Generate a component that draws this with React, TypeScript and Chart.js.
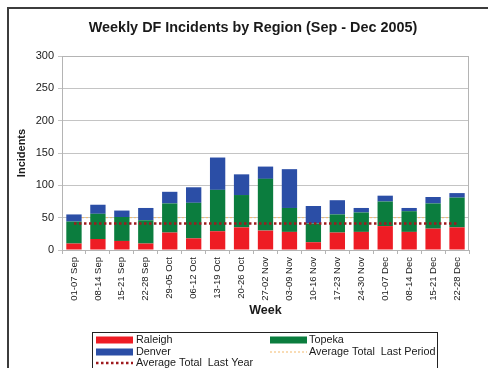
import React, { useEffect, useRef } from "react";
import { Chart, registerables } from "chart.js";

Chart.register(...registerables);

const FONT = "'Liberation Sans', Arial, Helvetica, sans-serif";

const weeks = [
  "01-07 Sep", "08-14 Sep", "15-21 Sep", "22-28 Sep", "29-05 Oct", "06-12 Oct",
  "13-19 Oct", "20-26 Oct", "27-02 Nov", "03-09 Nov", "10-16 Nov", "17-23 Nov",
  "24-30 Nov", "01-07 Dec", "08-14 Dec", "15-21 Dec", "22-28 Dec",
];
const raleigh = [10, 17, 14, 10, 27, 18, 29, 35, 30, 28, 12, 27, 28, 37, 28, 33, 35];
const topeka = [34, 39, 37, 36, 45, 55, 64, 50, 80, 37, 29, 28, 30, 38, 32, 39, 46];
const denver = [11, 14, 10, 19, 18, 24, 50, 32, 19, 60, 27, 22, 7, 9, 5, 10, 7];
const avgTotalLastPeriod = 50;
const avgTotalLastYear = 41;

const yMax = 300;
const yStep = 50;

const RED = "#ee1c24";
const GREEN = "#0b7d3e";
const BLUE = "#2b4ea6";
const DOT_RED = "#9e1a1e";
const ORANGE = "#f3b96a";

// Frame, title, axis titles, plot border and legend box
const decorations = {
  id: "decorations",
  beforeDraw(chart: any) {
    const { ctx } = chart;
    ctx.save();
    ctx.fillStyle = "#ffffff";
    ctx.fillRect(0, 0, chart.width, chart.height);
    ctx.strokeStyle = "#3c3c3c";
    ctx.lineWidth = 2;
    ctx.strokeRect(8, 8, chart.width + 20, chart.height + 20);
    ctx.restore();
  },
  afterDraw(chart: any) {
    const { ctx, chartArea: a } = chart;
    ctx.save();
    // plot border
    ctx.strokeStyle = "#b4b4b4";
    ctx.lineWidth = 1;
    ctx.strokeRect(a.left + 0.5, a.top + 0.5, a.right - a.left - 1, a.bottom - a.top);

    ctx.fillStyle = "#1a1a1a";
    ctx.textAlign = "center";
    ctx.textBaseline = "middle";
    ctx.font = `bold 14.4px ${FONT}`;
    ctx.fillText("Weekly DF Incidents by Region (Sep - Dec 2005)", 253, 28);

    ctx.font = `bold 12.5px ${FONT}`;
    ctx.fillText("Week", (a.left + a.right) / 2, 311);

    ctx.save();
    ctx.translate(22, 153);
    ctx.rotate(-Math.PI / 2);
    ctx.font = `bold 11px ${FONT}`;
    ctx.fillText("Incidents", 0, 0);
    ctx.restore();

    // legend
    ctx.strokeStyle = "#222";
    ctx.lineWidth = 1;
    ctx.strokeRect(92.5, 332.5, 345, 50);
    ctx.font = `10.8px ${FONT}`;
    ctx.textAlign = "left";
    const rowY = [340, 352, 363];
    const swatch = (x: number, y: number, c: string) => {
      ctx.fillStyle = c;
      ctx.fillRect(x, y - 3.5, 37, 7);
    };
    const dashed = (x: number, y: number, c: string, w: number, dash: number[]) => {
      ctx.save();
      ctx.strokeStyle = c;
      ctx.lineWidth = w;
      ctx.setLineDash(dash);
      ctx.beginPath();
      ctx.moveTo(x, y);
      ctx.lineTo(x + 37, y);
      ctx.stroke();
      ctx.restore();
    };
    const label = (t: string, x: number, y: number) => {
      ctx.fillStyle = "#1a1a1a";
      ctx.fillText(t, x, y);
    };
    swatch(96, rowY[0], RED);
    label("Raleigh", 136, rowY[0]);
    swatch(270, rowY[0], GREEN);
    label("Topeka", 309, rowY[0]);
    swatch(96, rowY[1], BLUE);
    label("Denver", 136, rowY[1]);
    dashed(270, rowY[1], ORANGE, 1, [2, 2]);
    label("Average Total  Last Period", 309, rowY[1]);
    dashed(96, rowY[2], DOT_RED, 2.5, [2.5, 2.5]);
    label("Average Total  Last Year", 136, rowY[2]);
    ctx.restore();
  },
};

export default function App() {
  const ref = useRef<HTMLCanvasElement | null>(null);

  useEffect(() => {
    if (!ref.current) return;
    const chart = new Chart(ref.current, {
      type: "bar",
      data: {
        labels: weeks,
        datasets: [
          {
            type: "line",
            label: "Average Total  Last Year",
            data: weeks.map(() => avgTotalLastYear),
            borderColor: DOT_RED,
            borderWidth: 2.5,
            borderDash: [2.5, 2.5],
            pointRadius: 0,
            fill: false,
            order: 0,
            stack: "line1",
          } as any,
          {
            type: "line",
            label: "Average Total  Last Period",
            data: weeks.map(() => avgTotalLastPeriod),
            borderColor: ORANGE,
            borderWidth: 1,
            borderDash: [2, 2],
            pointRadius: 0,
            fill: false,
            order: 3,
            stack: "line2",
          } as any,
          { label: "Raleigh", data: raleigh, backgroundColor: RED, order: 2, stack: "s" },
          { label: "Topeka", data: topeka, backgroundColor: GREEN, order: 2, stack: "s" },
          { label: "Denver", data: denver, backgroundColor: BLUE, order: 2, stack: "s" },
        ],
      },
      options: {
        responsive: false,
        animation: false,
        layout: { padding: { top: 56, right: 19, bottom: 0, left: 0 } },
        datasets: { bar: { barPercentage: 0.64, categoryPercentage: 1 } },
        plugins: {
          legend: { display: false },
          title: { display: false },
          tooltip: { enabled: false },
        },
        scales: {
          x: {
            stacked: true,
            grid: { drawOnChartArea: false, drawTicks: true, tickLength: 4, color: "#b4b4b4" },
            border: { display: true, color: "#b4b4b4" },
            ticks: {
              autoSkip: false,
              maxRotation: 90,
              minRotation: 90,
              padding: 3,
              color: "#1a1a1a",
              font: { family: FONT, size: 9.5 },
            },
            afterFit: (s: any) => {
              s.height = 118;
            },
          },
          y: {
            stacked: true,
            min: 0,
            max: yMax,
            ticks: {
              stepSize: yStep,
              padding: 4,
              color: "#1a1a1a",
              font: { family: FONT, size: 11 },
            },
            grid: { color: "#c4c4c4", tickLength: 4 },
            border: { display: true, color: "#b4b4b4" },
            afterFit: (s: any) => {
              s.width = 62;
            },
          },
        },
      },
      plugins: [decorations],
    });
    return () => chart.destroy();
  }, []);

  return (
    <div style={{ position: "absolute", left: 0, top: 0, width: 488, height: 368 }}>
      <canvas ref={ref} width={488} height={368} style={{ display: "block" }} />
    </div>
  );
}
